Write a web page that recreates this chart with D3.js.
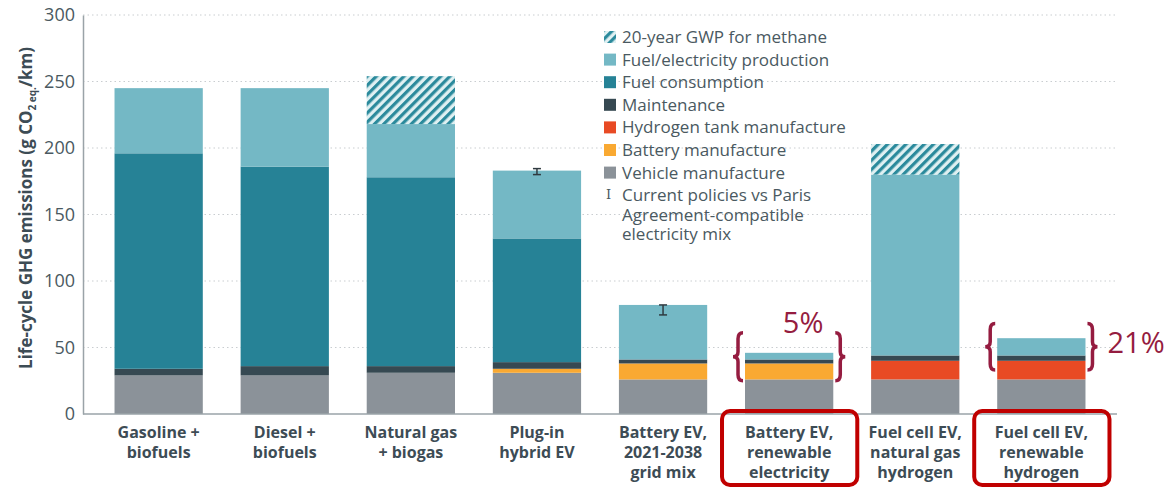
<!DOCTYPE html>
<html lang="en">
<head>
    <meta charset="UTF-8">
    <title>Life-cycle GHG emissions</title>
    <script src="https://d3js.org/d3.v7.min.js"></script>
    <style type="text/css">
        body { margin: 0; background: #fff; }
        svg { font-family: "Open Sans", "DejaVu Sans", sans-serif; }
    </style>
</head>
<body>
<script type="text/javascript">

// Categories (x axis), one label line per entry
var categories = [
    ["Gasoline +", "biofuels"],
    ["Diesel +", "biofuels"],
    ["Natural gas", "+ biogas"],
    ["Plug-in", "hybrid EV"],
    ["Battery EV,", "2021-2038", "grid mix"],
    ["Battery EV,", "renewable", "electricity"],
    ["Fuel cell EV,", "natural gas", "hydrogen"],
    ["Fuel cell EV,", "renewable", "hydrogen"]
];

// Stacked components, g CO2 eq./km (bottom to top)
var vehicleManufacture  = [29, 29, 31, 31, 26, 26, 26, 26];
var batteryManufacture  = [0, 0, 0, 3, 12, 12, 0, 0];
var hydrogenTank        = [0, 0, 0, 0, 0, 0, 14, 14];
var maintenance         = [5, 7, 5, 5, 3, 3, 4, 4];
var fuelConsumption     = [162, 150, 142, 93, 0, 0, 0, 0];
var fuelProduction      = [49, 59, 40, 51, 41, 5, 136, 13];
var methaneGWP20        = [0, 0, 36, 0, 0, 0, 23, 0];

// Error bars: current policies vs Paris-compatible mix
var errorLow  = [null, null, null, 180, 74.5, null, null, null];
var errorHigh = [null, null, null, 184.5, 82, null, null, null];

var yTicks = [0, 50, 100, 150, 200, 250, 300];

// Highlighted bars with share annotations
var highlights = [
    {index: 5, label: "5%", low: 25, high: 61},
    {index: 7, label: "21%", low: 33, high: 68}
];

var w = 1173, h = 489;
var plotLeft = 83, plotRight = 1117, plotTop = 15, plotBottom = 414;

var series = [
    {key: "vehicle",  name: "Vehicle manufacture",           values: vehicleManufacture, color: "#8b9299"},
    {key: "battery",  name: "Battery manufacture",           values: batteryManufacture, color: "#f9a932"},
    {key: "hydrogen", name: "Hydrogen tank manufacture",     values: hydrogenTank,       color: "#e84a24"},
    {key: "maint",    name: "Maintenance",                   values: maintenance,        color: "#364952"},
    {key: "fuelcons", name: "Fuel consumption",              values: fuelConsumption,    color: "#268296"},
    {key: "fuelprod", name: "Fuel/electricity production",   values: fuelProduction,     color: "#74b8c5"},
    {key: "methane",  name: "20-year GWP for methane",       values: methaneGWP20,       color: "url(#hatch)"}
];

var table = categories.map(function(c, i) {
    var row = {i: i};
    series.forEach(function(s) { row[s.key] = s.values[i]; });
    return row;
});

var stack = d3.stack().keys(series.map(function(s) { return s.key; }));
var stacked = stack(table);

var xScale = d3.scaleBand()
    .domain(d3.range(categories.length))
    .range([plotLeft, plotRight])
    .paddingInner(0.3)
    .paddingOuter(0.25);

var yScale = d3.scaleLinear()
    .domain([0, 300])
    .range([plotBottom, plotTop]);

var svg = d3.select("body")
    .append("svg")
    .attr("width", w)
    .attr("height", h);

// hatch pattern for methane
var defs = svg.append("defs");
var pat = defs.append("pattern")
    .attr("id", "hatch")
    .attr("patternUnits", "userSpaceOnUse")
    .attr("width", 6.5)
    .attr("height", 6.5)
    .attr("patternTransform", "rotate(45)");
pat.append("rect").attr("width", 6.5).attr("height", 6.5).attr("fill", "#dff0f2");
pat.append("rect").attr("width", 3.2).attr("height", 6.5).attr("fill", "#2b8a9c");

// gridlines
svg.append("g")
    .selectAll("line")
    .data(yTicks.slice(1))
    .enter()
    .append("line")
    .attr("x1", plotLeft)
    .attr("x2", plotRight)
    .attr("y1", function(d) { return yScale(d); })
    .attr("y2", function(d) { return yScale(d); })
    .attr("stroke", "#c9cdd0")
    .attr("stroke-width", 1)
    .attr("stroke-dasharray", "1.5,3");

// bars
svg.append("g")
    .selectAll("g")
    .data(stacked)
    .enter()
    .append("g")
    .attr("fill", function(d, k) { return series[k].color; })
    .selectAll("rect")
    .data(function(d) { return d; })
    .enter()
    .append("rect")
    .attr("x", function(d) { return xScale(d.data.i); })
    .attr("width", xScale.bandwidth())
    .attr("y", function(d) { return yScale(d[1]); })
    .attr("height", function(d) { return yScale(d[0]) - yScale(d[1]); });

// error bars
var errData = d3.range(categories.length).filter(function(i) { return errorLow[i] != null; });
var eg = svg.append("g").attr("stroke", "#2f3a40").attr("stroke-width", 1.5);
errData.forEach(function(i) {
    var cx = xScale(i) + xScale.bandwidth() / 2;
    eg.append("line").attr("x1", cx).attr("x2", cx)
        .attr("y1", yScale(errorLow[i])).attr("y2", yScale(errorHigh[i]));
    eg.append("line").attr("x1", cx - 4).attr("x2", cx + 4)
        .attr("y1", yScale(errorLow[i])).attr("y2", yScale(errorLow[i]));
    eg.append("line").attr("x1", cx - 4).attr("x2", cx + 4)
        .attr("y1", yScale(errorHigh[i])).attr("y2", yScale(errorHigh[i]));
});

// axes
var yAxis = d3.axisLeft(yScale).tickValues(yTicks).tickSize(0).tickPadding(8);
var gy = svg.append("g").attr("transform", "translate(" + plotLeft + ",0)").call(yAxis);
gy.select(".domain").attr("stroke", "#9aa3a8").attr("stroke-width", 1.5);
gy.selectAll("text")
    .attr("font-size", "18px")
    .attr("font-family", "\"Open Sans\", sans-serif")
    .attr("fill", "#4a5961");

svg.append("line")
    .attr("x1", plotLeft).attr("x2", plotRight)
    .attr("y1", plotBottom).attr("y2", plotBottom)
    .attr("stroke", "#9aa3a8")
    .attr("stroke-width", 1.5);

// y axis title
var yt = svg.append("text")
    .attr("transform", "translate(32,208) rotate(-90)")
    .attr("text-anchor", "middle")
    .attr("font-size", "17px")
    .attr("font-weight", "bold")
    .attr("fill", "#3d4c55");
yt.append("tspan").text("Life-cycle GHG emissions (g CO");
yt.append("tspan").attr("font-size", "10px").attr("dy", 4).text("2");
yt.append("tspan").attr("font-size", "10px").text(" eq.");
yt.append("tspan").attr("dy", -4).text("/km)");

// category labels
var xl = svg.append("g");
categories.forEach(function(lines, i) {
    var t = xl.append("text")
        .attr("text-anchor", "middle")
        .attr("font-size", "16px")
        .attr("font-weight", "bold")
        .attr("fill", "#3d4c55");
    lines.forEach(function(l, j) {
        t.append("tspan")
            .attr("x", xScale(i) + xScale.bandwidth() / 2)
            .attr("y", 438 + j * 20)
            .text(l);
    });
});

// highlight boxes and braces
var maroon = "#951c40";
function bracePath(x, y0, y1, dir) {
    // dir = 1 opens to the right ("{"), -1 opens to the left ("}")
    var m = (y0 + y1) / 2, d = 5 * dir;
    return "M" + (x + d) + "," + y0 +
        " Q" + x + "," + y0 + " " + x + "," + (y0 + 6) +
        " L" + x + "," + (m - 5) +
        " Q" + x + "," + m + " " + (x - d) + "," + m +
        " Q" + x + "," + m + " " + x + "," + (m + 5) +
        " L" + x + "," + (y1 - 6) +
        " Q" + x + "," + y1 + " " + (x + d) + "," + y1;
}
highlights.forEach(function(hl) {
    var x0 = xScale(hl.index), bw = xScale.bandwidth();
    svg.append("rect")
        .attr("x", x0 - 23).attr("y", 411)
        .attr("width", bw + 47).attr("height", 74)
        .attr("rx", 8)
        .attr("fill", "none")
        .attr("stroke", "#c00000")
        .attr("stroke-width", 4);
    svg.append("path")
        .attr("d", bracePath(x0 - 7, yScale(hl.high), yScale(hl.low), 1))
        .attr("fill", "none").attr("stroke", maroon).attr("stroke-width", 3.5);
    svg.append("path")
        .attr("d", bracePath(x0 + bw + 7, yScale(hl.high), yScale(hl.low), -1))
        .attr("fill", "none").attr("stroke", maroon).attr("stroke-width", 3.5);
});
svg.append("text")
    .attr("x", xScale(5) + xScale.bandwidth() / 2 + 14)
    .attr("y", 333)
    .attr("text-anchor", "middle")
    .attr("font-size", "29px")
    .attr("fill", maroon)
    .text(highlights[0].label);
svg.append("text")
    .attr("x", xScale(7) + xScale.bandwidth() + 22)
    .attr("y", 353)
    .attr("font-size", "29px")
    .attr("fill", maroon)
    .text(highlights[1].label);

// legend
var legendItems = series.slice().reverse();
var lg = svg.append("g").attr("transform", "translate(604,0)");
legendItems.forEach(function(s, k) {
    var cy = 37 + k * 22.6;
    lg.append("rect")
        .attr("x", 0).attr("y", cy - 6)
        .attr("width", 12).attr("height", 12)
        .attr("fill", s.color);
    lg.append("text")
        .attr("x", 18).attr("y", cy + 6)
        .attr("font-size", "17px")
        .attr("fill", "#4a5961")
        .text(s.name);
});
var ey = 37 + 7 * 22.6;
lg.append("text")
    .attr("x", 2).attr("y", ey + 4)
    .attr("font-size", "13px")
    .attr("font-family", "\"DejaVu Serif\", serif")
    .attr("fill", "#4a5961")
    .text("I");
var et = lg.append("text")
    .attr("font-size", "17px")
    .attr("fill", "#4a5961");
["Current policies vs Paris", "Agreement-compatible", "electricity mix"].forEach(function(l, j) {
    et.append("tspan").attr("x", 18).attr("y", ey + 6 + j * 19.5).text(l);
});

</script>
</body>
</html>
